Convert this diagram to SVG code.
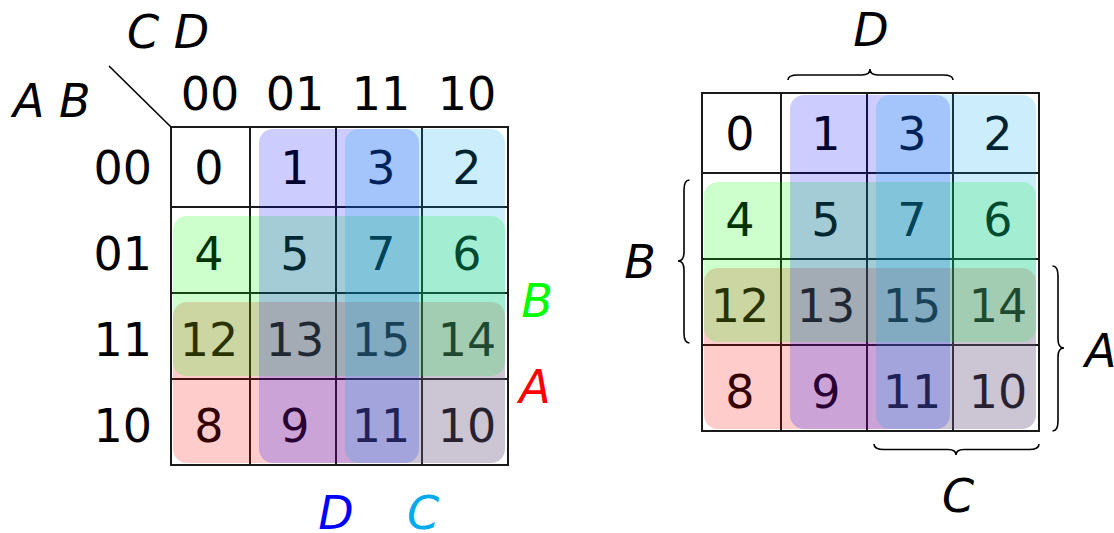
<svg xmlns="http://www.w3.org/2000/svg" width="1114" height="533" viewBox="0 0 1114 533">
<style>
text{font-family:"DejaVu Sans","Liberation Sans",sans-serif;font-size:46px;fill:#000}
.n{text-anchor:middle}
.h{text-anchor:middle}
.r{text-anchor:end}
.it{font-style:italic}
.grid{fill:none;stroke:#1a1a1a;stroke-width:2}
.loop{fill-opacity:0.2;stroke:none}
.lA{fill:#ff0000}
.lB{fill:#00ff00}
.lD{fill:#0000ff}
.lC{fill:#00aaee}
.brace{fill:none;stroke:#000;stroke-width:1.6}
</style>
<rect width="1114" height="533" fill="#fff"/>

<!-- LEFT MAP -->
<g id="left-map">
  <g id="left-headers">
    <text class="it" x="127" y="48">C D</text>
    <text class="it" x="13" y="117">A B</text>
    <text class="h" x="210" y="110">00</text>
    <text class="h" x="295" y="110">01</text>
    <text class="h" x="381" y="110">11</text>
    <text class="h" x="467" y="110">10</text>
    <text class="r" x="152" y="183.5">00</text>
    <text class="r" x="152" y="269.5">01</text>
    <text class="r" x="152" y="355.5">11</text>
    <text class="r" x="152" y="441.5">10</text>
  </g>
  <g id="left-grid">
    <rect class="grid" x="171" y="127" width="337" height="338"/>
    <path class="grid" d="M250,127V465M336,127V465M422,127V465M171,207H508M171,293H508M171,379H508"/>
  </g>
  <g id="left-cells">
    <g id="L0"><text class="n" x="209" y="183.5">0</text></g>
    <g id="L1"><text class="n" x="295" y="183.5">1</text></g>
    <g id="L3"><text class="n" x="381" y="183.5">3</text></g>
    <g id="L2"><text class="n" x="467" y="183.5">2</text></g>
    <g id="L4"><text class="n" x="209" y="269.5">4</text></g>
    <g id="L5"><text class="n" x="295" y="269.5">5</text></g>
    <g id="L7"><text class="n" x="381" y="269.5">7</text></g>
    <g id="L6"><text class="n" x="467" y="269.5">6</text></g>
    <g id="L12"><text class="n" x="209" y="355.5">12</text></g>
    <g id="L13"><text class="n" x="295" y="355.5">13</text></g>
    <g id="L15"><text class="n" x="381" y="355.5">15</text></g>
    <g id="L14"><text class="n" x="467" y="355.5">14</text></g>
    <g id="L8"><text class="n" x="209" y="441.5">8</text></g>
    <g id="L9"><text class="n" x="295" y="441.5">9</text></g>
    <g id="L11"><text class="n" x="381" y="441.5">11</text></g>
    <g id="L10"><text class="n" x="467" y="441.5">10</text></g>
  </g>
  <g id="left-loops">
    <rect id="L-loopA" class="loop lA" x="173" y="302" width="332" height="161" rx="14"/>
    <rect id="L-loopB" class="loop lB" x="173" y="216" width="332" height="160" rx="14"/>
    <rect id="L-loopD" class="loop lD" x="259" y="129" width="160" height="334" rx="14"/>
    <rect id="L-loopC" class="loop lC" x="345" y="129" width="160" height="334" rx="14"/>
  </g>
  <g id="left-labels">
    <text class="h it" x="537" y="317" style="fill:#00ff00">B</text>
    <text class="h it" x="535" y="403" style="fill:#ff0000">A</text>
    <text class="h it" x="336" y="529" style="fill:#0000ff">D</text>
    <text class="h it" x="423" y="529" style="fill:#00aaee">C</text>
  </g>
</g>

<!-- RIGHT MAP -->
<g id="right-map">
  <g id="right-grid">
    <rect class="grid" x="702" y="93" width="337" height="338"/>
    <path class="grid" d="M781,93V431M867,93V431M953,93V431M702,173H1039M702,259H1039M702,345H1039"/>
  </g>
  <g id="right-cells">
    <g id="R0"><text class="n" x="740" y="149.5">0</text></g>
    <g id="R1"><text class="n" x="826" y="149.5">1</text></g>
    <g id="R3"><text class="n" x="912" y="149.5">3</text></g>
    <g id="R2"><text class="n" x="998" y="149.5">2</text></g>
    <g id="R4"><text class="n" x="740" y="235.5">4</text></g>
    <g id="R5"><text class="n" x="826" y="235.5">5</text></g>
    <g id="R7"><text class="n" x="912" y="235.5">7</text></g>
    <g id="R6"><text class="n" x="998" y="235.5">6</text></g>
    <g id="R12"><text class="n" x="740" y="321.5">12</text></g>
    <g id="R13"><text class="n" x="826" y="321.5">13</text></g>
    <g id="R15"><text class="n" x="912" y="321.5">15</text></g>
    <g id="R14"><text class="n" x="998" y="321.5">14</text></g>
    <g id="R8"><text class="n" x="740" y="407.5">8</text></g>
    <g id="R9"><text class="n" x="826" y="407.5">9</text></g>
    <g id="R11"><text class="n" x="912" y="407.5">11</text></g>
    <g id="R10"><text class="n" x="998" y="407.5">10</text></g>
  </g>
  <g id="right-loops">
    <rect id="R-loopA" class="loop lA" x="704" y="268" width="332" height="161" rx="14"/>
    <rect id="R-loopB" class="loop lB" x="704" y="182" width="332" height="160" rx="14"/>
    <rect id="R-loopD" class="loop lD" x="790" y="95" width="160" height="334" rx="14"/>
    <rect id="R-loopC" class="loop lC" x="876" y="95" width="160" height="334" rx="14"/>
  </g>
  <g id="right-labels">
    <text class="h it" x="871" y="46">D</text>
    <text class="h it" x="640" y="278">B</text>
    <text class="it" x="1085" y="367">A</text>
    <text class="h it" x="958" y="512">C</text>
  </g>
</g>

<g id="connectors">
  <line x1="109" y1="66" x2="171" y2="127" stroke="#000" stroke-width="1.6"/>
  <path class="brace" d="M788,80 Q788,75 798,75 L862,75 Q870,75 870,69 Q870,75 878,75 L943,75 Q953,75 953,80"/>
  <path class="brace" d="M874,444 Q874,449.5 884,449.5 L948,449.5 Q956,449.5 956,455 Q956,449.5 964,449.5 L1029,449.5 Q1039,449.5 1039,444"/>
  <path class="brace" d="M689.5,180 Q684,180 684,190 L684,252 Q684,261 678,261 Q684,261 684,270 L684,333 Q684,343 689.5,343"/>
  <path class="brace" d="M1052.5,266 Q1058,266 1058,276 L1058,339 Q1058,348 1064,348 Q1058,348 1058,357 L1058,421 Q1058,431 1052.5,431"/>
</g>
</svg>
